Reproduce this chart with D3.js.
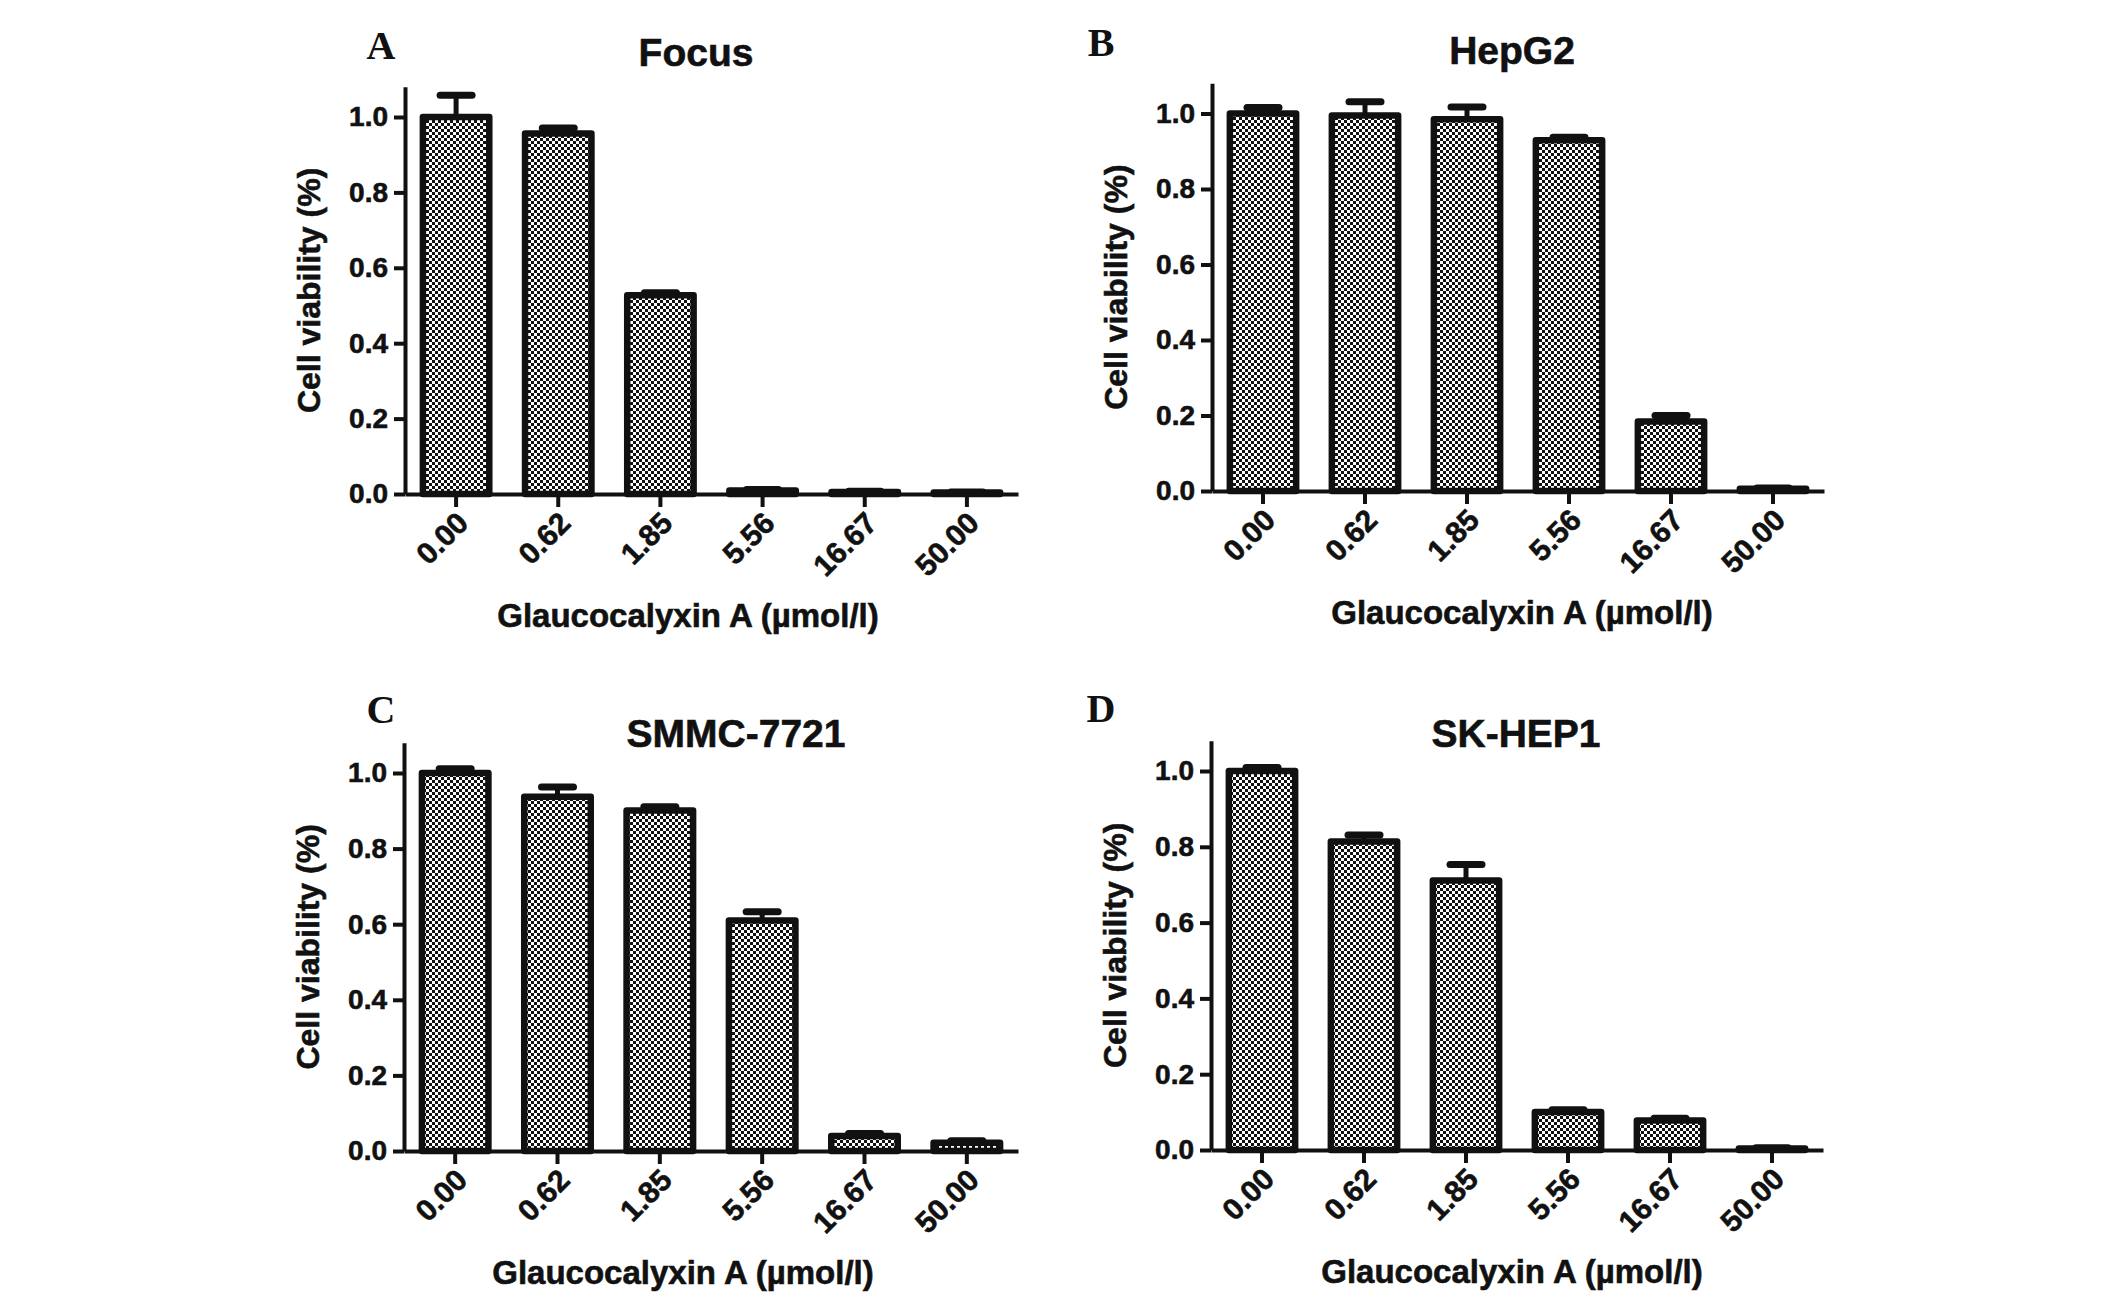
<!DOCTYPE html>
<html>
<head>
<meta charset="utf-8">
<script src="https://cdn.jsdelivr.net/npm/d3@7"></script>
<style>
  body { margin: 0; background: #fff; }
  text { font-family: "Liberation Sans", Arial, sans-serif; font-weight: bold; fill: #111;
         stroke: #111; stroke-width: 0.6px; }
  .letter { font-family: "Liberation Serif", "Times New Roman", serif; stroke-width: 0; }
</style>
</head>
<body>
<script>
// Data
let doses = ['0.00', '0.62', '1.85', '5.56', '16.67', '50.00'];
let yTicks = [0, 0.2, 0.4, 0.6, 0.8, 1.0];

let focusMean = [1.000, 0.956, 0.527, 0.009, 0.005, 0.004];
let focusErr  = [0.058, 0.015, 0.007, 0.003, 0.002, 0.001];
let hepg2Mean = [1.000, 0.995, 0.985, 0.929, 0.184, 0.006];
let hepg2Err  = [0.016, 0.036, 0.032, 0.008, 0.016, 0.002];
let smmcMean  = [1.000, 0.937, 0.901, 0.610, 0.040, 0.022];
let smmcErr   = [0.011, 0.026, 0.010, 0.023, 0.006, 0.005];
let skMean    = [1.000, 0.814, 0.711, 0.100, 0.078, 0.004];
let skErr     = [0.009, 0.017, 0.042, 0.006, 0.006, 0.002];

let width = 2126, height = 1299;

let svg = d3.select('body').append('svg').attr('width', width).attr('height', height)
  .style('background', '#fff');

// checkered fill of the bars
let pat = svg.append('defs').append('pattern').attr('id', 'checker')
  .attr('patternUnits', 'userSpaceOnUse').attr('width', 6).attr('height', 6);
pat.append('rect').attr('width', 6).attr('height', 6).attr('fill', '#fff');
pat.append('rect').attr('width', 3).attr('height', 3).attr('fill', '#111');
pat.append('rect').attr('x', 3).attr('y', 3).attr('width', 3).attr('height', 3).attr('fill', '#111');

let panels = [
  { letter: 'A', title: 'Focus',     mean: focusMean, err: focusErr,
    x0: 405, x1: 1018, y0: 494, yOne: 117, letterX: 381, letterY: 59, titleX: 696, titleY: 66, xTitleX: 688 },
  { letter: 'B', title: 'HepG2',     mean: hepg2Mean, err: hepg2Err,
    x0: 1212, x1: 1824, y0: 491, yOne: 113.5, letterX: 1101, letterY: 56, titleX: 1512, titleY: 64, xTitleX: 1522 },
  { letter: 'C', title: 'SMMC-7721', mean: smmcMean, err: smmcErr,
    x0: 404, x1: 1018, y0: 1151, yOne: 773, letterX: 381, letterY: 723, titleX: 736, titleY: 747, xTitleX: 683 },
  { letter: 'D', title: 'SK-HEP1',   mean: skMean, err: skErr,
    x0: 1211, x1: 1823, y0: 1150, yOne: 771, letterX: 1101, letterY: 722, titleX: 1516, titleY: 747, xTitleX: 1512 }
];

panels.forEach(p => {
  let g = svg.append('g');
  let data = doses.map((d, i) => ({ dose: d, mean: p.mean[i], err: p.err[i] }));

  let yScale = d3.scaleLinear().domain([0, 1]).range([p.y0, p.yOne]);
  let yTop = yScale(1.08);
  let xScale = d3.scaleBand().domain(doses).range([p.x0, p.x1]).paddingInner(0.35).paddingOuter(0.175);

  // error bars first, bars drawn on top
  let eb = g.selectAll('.eb').data(data).enter().append('g');
  eb.append('line')
    .attr('x1', d => xScale(d.dose) + xScale.bandwidth() / 2).attr('x2', d => xScale(d.dose) + xScale.bandwidth() / 2)
    .attr('y1', d => yScale(d.mean)).attr('y2', d => yScale(d.mean + d.err))
    .attr('stroke', '#111').attr('stroke-width', 5);
  eb.append('line')
    .attr('x1', d => xScale(d.dose) + xScale.bandwidth() / 2 - 16).attr('x2', d => xScale(d.dose) + xScale.bandwidth() / 2 + 16)
    .attr('y1', d => yScale(d.mean + d.err)).attr('y2', d => yScale(d.mean + d.err))
    .attr('stroke', '#111').attr('stroke-width', 7).attr('stroke-linecap', 'round');

  g.selectAll('.bar').data(data).enter().append('rect')
    .attr('x', d => xScale(d.dose)).attr('y', d => yScale(d.mean))
    .attr('width', xScale.bandwidth()).attr('height', d => p.y0 - yScale(d.mean))
    .attr('fill', 'url(#checker)').attr('stroke', '#111').attr('stroke-width', 6.5)
    .attr('stroke-linejoin', 'round');

  // y axis
  let yAxis = g.append('g').attr('transform', `translate(${p.x0},0)`)
    .call(d3.axisLeft(d3.scaleLinear().domain([0, 1.08]).range([p.y0, yTop]))
      .tickValues(yTicks).tickFormat(d3.format('.1f')).tickSize(11).tickSizeOuter(0).tickPadding(6));
  yAxis.select('.domain').attr('stroke', '#111').attr('stroke-width', 4);
  yAxis.selectAll('.tick line').attr('stroke', '#111').attr('stroke-width', 4);
  yAxis.selectAll('.tick text').style('font-size', '28px').attr('fill', '#111');

  // x axis
  let xAxis = g.append('g').attr('transform', `translate(0,${p.y0})`)
    .call(d3.axisBottom(xScale).tickSize(13).tickSizeOuter(0));
  xAxis.select('.domain').attr('stroke', '#111').attr('stroke-width', 4);
  xAxis.selectAll('.tick line').attr('stroke', '#111').attr('stroke-width', 4);
  xAxis.selectAll('.tick text')
    .style('font-size', '30px').attr('fill', '#111')
    .attr('text-anchor', 'end').attr('dy', null).attr('y', null)
    .attr('transform', 'translate(14,31) rotate(-45)');

  // titles
  g.append('text').attr('x', p.titleX).attr('y', p.titleY).text(p.title)
    .style('font-size', '39px').style('text-anchor', 'middle');
  g.append('text').attr('class', 'letter').attr('x', p.letterX).attr('y', p.letterY).text(p.letter)
    .style('font-size', '40px').style('text-anchor', 'middle');
  g.append('text').attr('x', p.xTitleX).attr('y', p.y0 + 133).text('Glaucocalyxin A (µmol/l)')
    .style('font-size', '33px').style('text-anchor', 'middle');
  g.append('text').attr('transform', `translate(${p.x0 - 85},${(p.y0 + yTop) / 2}) rotate(-90)`)
    .text('Cell viability (%)').style('font-size', '32px').style('text-anchor', 'middle');
});
</script>
</body>
</html>
